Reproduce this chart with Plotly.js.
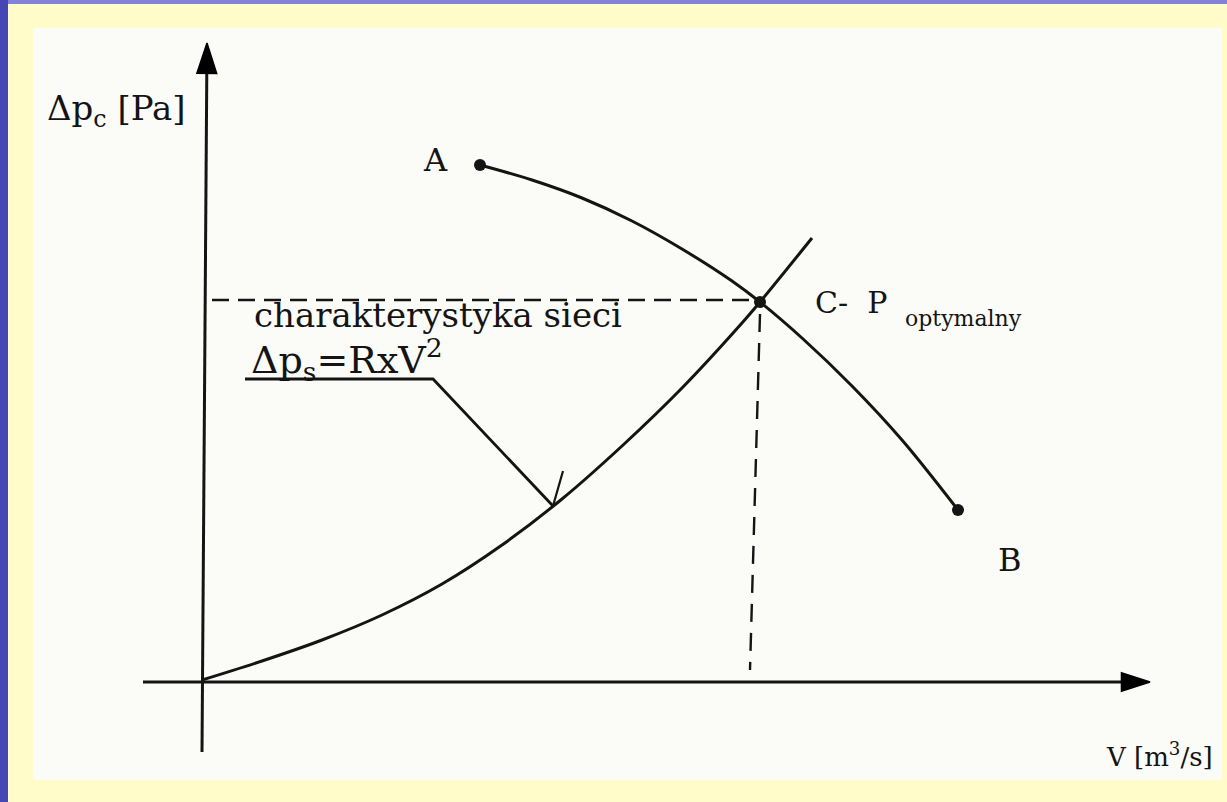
<!DOCTYPE html>
<html>
<head>
<meta charset="utf-8">
<script src="https://cdn.plot.ly/plotly-3.0.1.min.js"></script>
<style>
  html,body{margin:0;padding:0;background:#4646b4;}
  #chart{width:1227px;height:802px;}
</style>
</head>
<body>
<div id="chart"></div>
<script>
// values, in axis units (origin = where the axes cross)
const pumpV = [2.78, 3.30, 3.80, 4.30, 4.80, 5.30, 5.58, 6.00, 6.50, 7.00, 7.56];
const pumpP = [5.17, 5.02, 4.84, 4.61, 4.33, 4.01, 3.80, 3.44, 2.96, 2.42, 1.72];

const netV = [0.00, 0.60, 1.20, 1.80, 2.40, 3.00, 3.60, 4.20, 4.80, 5.40, 5.58, 6.10];
const netP = [0.02, 0.21, 0.42, 0.67, 0.98, 1.37, 1.83, 2.36, 2.94, 3.59, 3.80, 4.44];

const dotV = [2.78, 5.58, 7.56];   // A, C, B
const dotP = [5.17, 3.80, 1.72];

const optHV = [0.10, 5.58], optHP = [3.82, 3.82];   // dashed to the pressure axis
const optVV = [5.58, 5.48], optVP = [3.68, 0.12];   // dashed to the flow axis

const leaderV = [0.43, 2.31, 3.51], leaderP = [3.03, 3.03, 1.76];
const barbV = [3.51, 3.61], barbP = [1.76, 2.11];

const axXV = [-0.59, 9.48], axXP = [0, 0];
const axYV = [0.00, 0.05], axYP = [-0.70, 6.39];

const ink = "#141414";
const serif = "DejaVu Serif, Liberation Serif, serif";

const line = (x, y, extra) => Object.assign({
  type:"scatter", mode:"lines", x, y, hoverinfo:"skip",
  line:{color:ink, width:3}
}, extra || {});

const arrowAxis = (x, y, size) => line(x, y, {
  mode:"lines+markers",
  marker:{symbol:["circle","arrow"], size:[0,size], color:"#000", opacity:1,
          line:{width:1.5, color:"#000"}, angleref:"previous"}
});

const traces = [
  arrowAxis(axXV, axXP, 30),
  arrowAxis(axYV, axYP, 32),
  line(optHV, optHP, {line:{color:ink, width:2.4, dash:"17px,9px"}}),
  line(optVV, optVP, {line:{color:ink, width:2.4, dash:"18px,11px"}}),
  line(netV, netP, {line:{color:ink, width:3, shape:"spline", smoothing:1}}),
  line(pumpV, pumpP, {line:{color:ink, width:3, shape:"spline", smoothing:1}}),
  line(leaderV, leaderP, {line:{color:ink, width:2.8}}),
  line(barbV, barbP, {line:{color:ink, width:2.2}}),
  {type:"scatter", mode:"markers", x:dotV, y:dotP, hoverinfo:"skip",
   marker:{size:12, color:ink}}
];

const txt = (x, y, text, size, xanchor) => ({
  x, y, xref:"x", yref:"y", text, showarrow:false,
  xanchor:xanchor || "left", yanchor:"middle",
  font:{family:serif, size, color:ink}
});

const P = n => 1 - n/802, X = n => n/1227;

const layout = {
  width:1227, height:802,
  margin:{l:0,r:0,t:0,b:0},
  paper_bgcolor:"#4646b4", plot_bgcolor:"rgba(0,0,0,0)",
  showlegend:false,
  xaxis:{range:[-2.02, 10.25], visible:false, fixedrange:true},
  yaxis:{range:[-1.20, 6.82], visible:false, fixedrange:true},
  shapes:[
    {type:"rect", xref:"paper", yref:"paper", x0:X(8), x1:1, y0:P(4), y1:1,
     fillcolor:"#8282d8", line:{width:0}, layer:"below"},
    {type:"rect", xref:"paper", yref:"paper", x0:X(8), x1:1, y0:0, y1:P(4),
     fillcolor:"#fffcc9", line:{width:0}, layer:"below"},
    {type:"rect", xref:"paper", yref:"paper", x0:X(33), x1:X(1222), y0:P(780), y1:P(28),
     fillcolor:"#fbfbf8", line:{width:0}, layer:"below"}
  ],
  annotations:[
    txt(-1.57, 5.72, "Δp<sub>c</sub> [Pa]", 34),
    txt(2.33, 5.22, "A", 32, "center"),
    txt(8.08, 1.22, "B", 32, "center"),
    txt(6.11, 3.80, "C-&nbsp; P", 30),
    txt(7.01, 3.64, "optymalny", 22),
    txt(0.50, 3.67, "charakterystyka sieci", 34),
    txt(0.47, 3.23, "Δp<sub>s</sub>=RxV<sup>2</sup>", 38),
    txt(10.13, -0.73, "V [m<sup>3</sup>/s]", 26, "right")
  ]
};

Plotly.newPlot("chart", traces, layout, {displayModeBar:false, staticPlot:true});
</script>
</body>
</html>
